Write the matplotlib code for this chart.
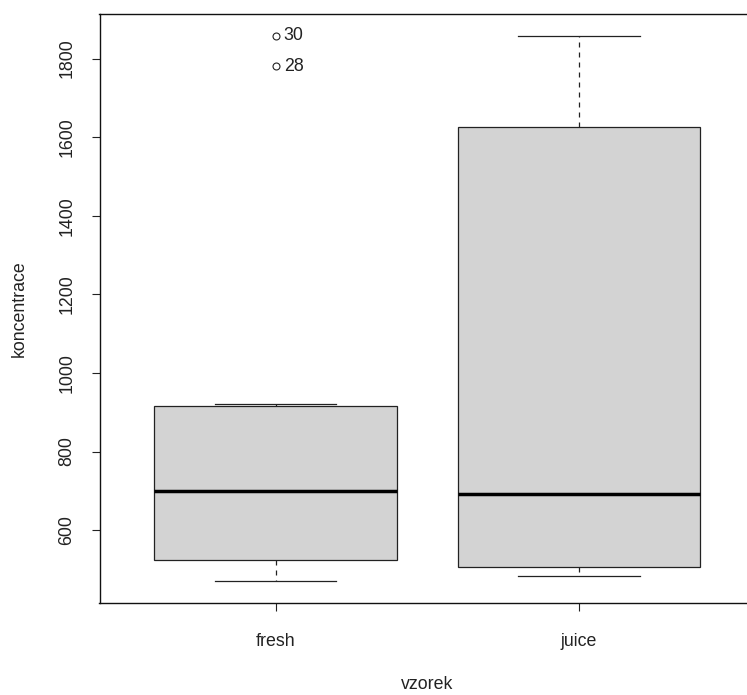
import matplotlib
matplotlib.use("Agg")
import matplotlib.pyplot as plt

plt.rcParams['font.family'] = ['Liberation Sans', 'DejaVu Sans']

# summary stats per group (whisker low, Q1, median, Q3, whisker high)
groups = ['fresh', 'juice']
whislo = [470, 483]
q1 = [524, 505]
med = [699, 693]
q3 = [917, 1625]
whishi = [922, 1857]
# outliers of the fresh group, with their row ids
fresh_out = [1780, 1858]
fresh_out_ids = ['28', '30']
fliers = [fresh_out, []]

stats = []
for i, g in enumerate(groups):
    stats.append(dict(label=g, whislo=whislo[i], q1=q1[i], med=med[i],
                      q3=q3[i], whishi=whishi[i], fliers=fliers[i]))

fs = 12.8

fig = plt.figure(figsize=(7.47, 6.95), dpi=100)
# axes run a little past the right edge of the figure
ax = fig.add_axes([99.5 / 747, 92 / 695, 655.5 / 747, 589 / 695])

ax.bxp(stats, positions=[1, 2], widths=0.8, patch_artist=True,
       boxprops=dict(facecolor='#d3d3d3', edgecolor='#222222', linewidth=0.9),
       medianprops=dict(color='black', linewidth=2.5, solid_capstyle='butt'),
       whiskerprops=dict(color='#222222', linewidth=0.9, linestyle=(0, (4, 4))),
       capprops=dict(color='#222222', linewidth=0.9),
       capwidths=0.4,
       flierprops=dict(marker='o', markersize=5, markerfacecolor='none',
                       markeredgecolor='#222222', markeredgewidth=0.8))

for v, lab in zip(fresh_out, fresh_out_ids):
    ax.annotate(lab, (1, v), xytext=(6, 0), textcoords='offset points',
                ha='left', va='center', fontsize=fs, color='#222222')

lo = min(whislo + fresh_out)
hi = max(whishi + fresh_out)
span = hi - lo
ax.set_ylim(lo - 0.04 * span, hi + 0.04 * span)
ax.set_xlim(0.42, 2.58)

ax.set_yticks([600, 800, 1000, 1200, 1400, 1600, 1800])
ax.set_yticklabels(['600', '800', '1000', '1200', '1400', '1600', '1800'],
                   rotation=90, va='center')
ax.set_xticks([1, 2])
ax.set_xticklabels(groups)
ax.tick_params(axis='both', length=5.5, width=0.8, labelsize=fs,
               colors='#222222')
ax.tick_params(axis='y', pad=12)
ax.tick_params(axis='x', pad=16)

for s in ax.spines.values():
    s.set_linewidth(1.0)
    s.set_color('#111111')

ax.set_xlabel('vzorek', fontsize=fs, labelpad=19, color='#222222')
ax.set_ylabel('koncentrace', fontsize=fs, labelpad=22, color='#222222')

fig.savefig('out.png', dpi=100)
